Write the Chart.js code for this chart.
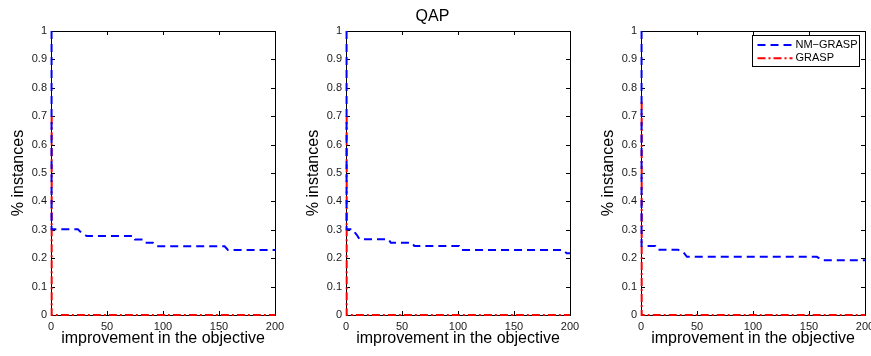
<!DOCTYPE html>
<html><head><meta charset="utf-8">
<script src="https://cdn.jsdelivr.net/npm/chart.js@4/dist/chart.umd.min.js"></script>
<style>
html,body{margin:0;padding:0;background:#fff;overflow:hidden;width:871px;height:356px;}
.w{position:absolute;top:0;width:295px;height:356px;}
canvas{display:block;}
</style></head><body>
<div class="w" style="left:0"><canvas id="c0" width="295" height="356"></canvas></div>
<div class="w" style="left:295px"><canvas id="c1" width="295" height="356"></canvas></div>
<div class="w" style="left:590px"><canvas id="c2" width="295" height="356"></canvas></div>
<script>
// ---- data ----
const xTicks = [0, 50, 100, 150, 200];
const yTicks = [0, 0.1, 0.2, 0.3, 0.4, 0.5, 0.6, 0.7, 0.8, 0.9, 1];
const seriesNames = ['NM\u2212GRASP', 'GRASP'];
const panelTitles = ['', 'QAP', ''];

const nm1X = [0.5, 0.5, 24, 27, 32, 74, 75, 82, 84, 91, 94, 155, 158, 200];
const nm1Y = [1, 0.302, 0.302, 0.29, 0.278, 0.278, 0.266, 0.266, 0.254, 0.254, 0.242, 0.242, 0.229, 0.229];
const gr1X = [0.6, 0.6, 200];
const gr1Y = [0.7, 0, 0];

const nm2X = [0.5, 0.5, 6, 8, 10, 12, 38, 40, 59, 61, 101, 103, 194, 197, 200];
const nm2Y = [1, 0.302, 0.302, 0.29, 0.28, 0.267, 0.267, 0.254, 0.254, 0.243, 0.243, 0.229, 0.229, 0.217, 0.217];
const gr2X = [0.6, 0.6, 200];
const gr2Y = [0.7, 0, 0];

const nm3X = [0.5, 0.5, 13, 15, 33, 38, 41, 157, 162, 200];
const nm3Y = [1, 0.243, 0.243, 0.23, 0.23, 0.22, 0.205, 0.205, 0.193, 0.193];
const gr3X = [0.6, 0.6, 200];
const gr3Y = [0.75, 0, 0];

// ---- drawing ----
const F = "'Liberation Sans', Arial, Helvetica, sans-serif";
const TICK = 4;

const boxPlugin = {
  id: 'matlabBox',
  beforeDatasetsDraw(chart) {
    const {ctx, chartArea: a, scales: {x, y}} = chart;
    ctx.save();
    ctx.strokeStyle = '#000';
    ctx.lineWidth = 1;
    ctx.strokeRect(Math.round(a.left) + 0.5, Math.round(a.top) + 0.5,
                   Math.round(a.right - a.left), Math.round(a.bottom - a.top));
    ctx.beginPath();
    x.ticks.forEach(t => {
      const px = Math.round(x.getPixelForValue(t.value)) + 0.5;
      ctx.moveTo(px, a.bottom); ctx.lineTo(px, a.bottom - TICK);
      ctx.moveTo(px, a.top); ctx.lineTo(px, a.top + TICK);
    });
    y.ticks.forEach(t => {
      const py = Math.round(y.getPixelForValue(t.value)) + 0.5;
      ctx.moveTo(a.left, py); ctx.lineTo(a.left + TICK, py);
      ctx.moveTo(a.right, py); ctx.lineTo(a.right - TICK, py);
    });
    ctx.stroke();
    ctx.restore();
  }
};

const legendPlugin = {
  id: 'matlabLegend',
  afterDraw(chart, args, opts) {
    if (!opts.show) return;
    const {ctx, chartArea: a} = chart;
    const w = 107, h = 31;
    const bx = Math.round(a.right - 6 - w) + 0.5, by = Math.round(a.top + 4) + 0.5;
    ctx.save();
    ctx.fillStyle = '#fff';
    ctx.fillRect(bx, by, w, h);
    ctx.strokeStyle = '#000';
    ctx.lineWidth = 1;
    ctx.strokeRect(bx, by, w, h);
    chart.data.datasets.forEach((ds, i) => {
      const ly = by + 9.5 + i * 13.3;
      ctx.beginPath();
      ctx.setLineDash(ds.borderDash || []);
      ctx.strokeStyle = ds.borderColor;
      ctx.lineWidth = ds.borderWidth;
      ctx.moveTo(bx + 5, ly); ctx.lineTo(bx + 40, ly);
      ctx.stroke();
      ctx.setLineDash([]);
      ctx.fillStyle = '#000';
      ctx.font = '11px ' + F;
      ctx.textBaseline = 'middle';
      ctx.textAlign = 'left';
      ctx.fillText(ds.label, bx + 43, ly);
    });
    ctx.restore();
  }
};

function pts(xs, ys) { return xs.map((v, i) => ({x: v, y: ys[i]})); }

function makeChart(id, nmX, nmY, grX, grY, title, showLegend) {
  new Chart(document.getElementById(id), {
    type: 'line',
    data: {
      datasets: [
        {label: seriesNames[0], data: pts(nmX, nmY), borderColor: '#0000ff', borderWidth: 2,
         borderDash: [8, 5], pointRadius: 0, fill: false, tension: 0, clip: false},
        {label: seriesNames[1], data: pts(grX, grY), borderColor: '#ff0000', borderWidth: 2,
         borderDash: [8, 3, 2, 3], pointRadius: 0, fill: false, tension: 0, clip: false}
      ]
    },
    options: {
      responsive: false, animation: false, events: [],
      layout: {padding: {top: title ? 0 : 31, right: 20, left: 0, bottom: 0}},
      plugins: {
        legend: {display: false}, tooltip: {enabled: false},
        title: {display: !!title, text: title, color: '#000',
                font: {size: 16, family: F, weight: 'normal'}, padding: {top: 7, bottom: 4.8}},
        matlabLegend: {show: showLegend}
      },
      scales: {
        x: {
          type: 'linear', min: 0, max: 200,
          afterBuildTicks: s => { s.ticks = xTicks.map(v => ({value: v})); },
          afterFit: s => { s.height = 41; },
          ticks: {font: {size: 11, family: F}, color: '#1a1a1a', padding: 5, maxRotation: 0, autoSkip: false,
                  callback: v => String(v)},
          grid: {display: false, drawTicks: false}, border: {display: false},
          title: {display: true, text: 'improvement in the objective', color: '#000',
                  font: {size: 16, family: F}, padding: {top: 0, bottom: 8}}
        },
        y: {
          type: 'linear', min: 0, max: 1,
          afterBuildTicks: s => { s.ticks = yTicks.map(v => ({value: v})); },
          afterFit: s => { s.width = 51; },
          ticks: {font: {size: 11, family: F}, color: '#1a1a1a', padding: 4, autoSkip: false,
                  callback: v => String(v)},
          grid: {display: false, drawTicks: false}, border: {display: false},
          title: {display: true, text: '% instances', color: '#000',
                  font: {size: 16, family: F}, padding: {top: 9, bottom: 0}}
        }
      }
    },
    plugins: [boxPlugin, legendPlugin]
  });
}

makeChart('c0', nm1X, nm1Y, gr1X, gr1Y, panelTitles[0], false);
makeChart('c1', nm2X, nm2Y, gr2X, gr2Y, panelTitles[1], false);
makeChart('c2', nm3X, nm3Y, gr3X, gr3Y, panelTitles[2], true);
</script>
</body></html>
